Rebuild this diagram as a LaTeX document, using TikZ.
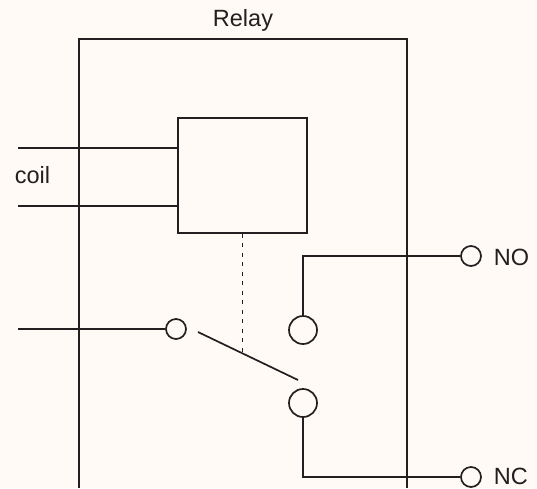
\documentclass[tikz,border=0pt]{standalone}
\usepackage{fontspec}
\setmainfont{Liberation Sans}
\definecolor{paper}{HTML}{FFFAF5}
\definecolor{ink}{HTML}{231F20}
\begin{document}
\begin{tikzpicture}[x=1pt,y=-1pt,line width=1.7pt,draw=ink,
    every node/.style={font=\fontsize{23.5}{28}\selectfont,text=ink}]

      \fill[paper] (0,0) rectangle (537,488);
      \useasboundingbox (0,0) rectangle (537,488);

      % relay housing, open at the bottom
      \draw (79,488) |- (407,39) -- (407,488);
      \node[anchor=base] (title) at (243,26) {Relay};

      \node[draw,minimum width=129pt,minimum height=115pt] (coil) at (242.5,175.5) {};

      \begin{scope}[every node/.style={circle,draw,inner sep=0pt}]
        \node[minimum size=20pt] (com) at (176,329) {};
        \node[minimum size=28pt] (no)  at (303,330) {};
        \node[minimum size=28pt] (nc)  at (303,403) {};
        \node[minimum size=20pt] (noT) at (471,256) {};
        \node[minimum size=20pt] (ncT) at (471,477) {};
      \end{scope}

      \coordinate (coilA) at (18,148);
      \coordinate (coilB) at (18,206);
      \coordinate (comL)  at (18,329);
      \coordinate (armA)  at (198,332);
      \coordinate (armB)  at (298,380);
      \coordinate (link)  at (242.5,353);

      \node[anchor=base] (coiltext) at (32.5,183) {coil};
      \node[anchor=base west,inner sep=0pt] (notext) at (493,265) {NO};
      \node[anchor=base west,inner sep=0pt] (nctext) at (493,484) {NC};

      \draw (coilA) -- (coil.west |- coilA);
      \draw (coilB) -- (coil.west |- coilB);
      \draw (comL) -- (com.west);
      \draw (armA) -- (armB);
      \draw[dash pattern=on 4pt off 5.5pt] (coil.south) -- (link);
      \draw (no.north) |- (noT.west);
      \draw (nc.south) |- (ncT.west);

    \end{tikzpicture}
\end{document}
